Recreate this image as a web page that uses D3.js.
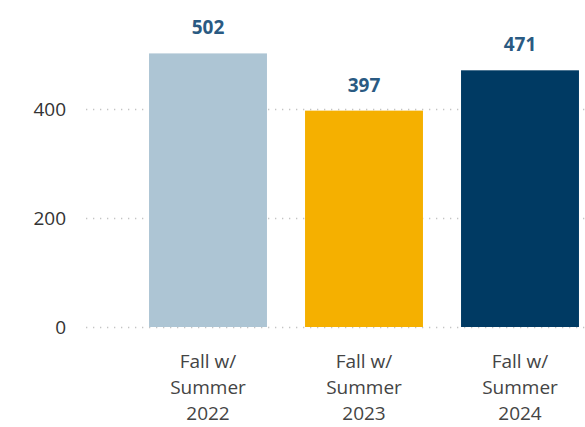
<!DOCTYPE html>
<html><head><meta charset="utf-8">
<script src="https://cdn.jsdelivr.net/npm/d3@7"></script>
<style>
html,body{margin:0;padding:0;background:#fff;}
svg{display:block;font-family:"Open Sans","Segoe UI",sans-serif;}
</style></head>
<body><svg id="chart" width="585" height="427"></svg>
<script>
const categories = [["Fall w/","Summer","2022"],["Fall w/","Summer","2023"],["Fall w/","Summer","2024"]];
const values = [502, 397, 471];
const colors = ["#adc5d4", "#f5b000", "#003a63"];
const yTicks = [0, 200, 400];

const svg = d3.select("#chart");
const keys = categories.map(c => c.join(" "));
const x = d3.scaleBand().domain(keys).range([130, 598]).paddingInner(0.244).paddingOuter(0.122);
const y = d3.scaleLinear().domain([0, 600]).range([327, 0]);

const grid = svg.append("g");
grid.selectAll("line").data(yTicks).join("line")
  .attr("x1", 86).attr("x2", 585)
  .attr("y1", d => y(d) + 0.5).attr("y2", d => y(d) + 0.5)
  .attr("stroke", "#c4c4c4").attr("stroke-width", 1.3).attr("stroke-dasharray", "1.3,5.7");

const yAxis = d3.axisLeft(y).tickValues(yTicks).tickSize(0).tickPadding(0);
const ya = svg.append("g").attr("transform", "translate(66,0)").call(yAxis);
ya.select(".domain").remove();
ya.selectAll("text").attr("font-size", 19).attr("fill", "#333").attr("font-family", "Open Sans, sans-serif").attr("dy", "0.35em");

svg.append("g").selectAll("rect").data(values).join("rect")
  .attr("x", (d, i) => x(keys[i]))
  .attr("width", x.bandwidth())
  .attr("y", d => y(d))
  .attr("height", d => y(0) - y(d))
  .attr("fill", (d, i) => colors[i]);

svg.append("g").selectAll("text").data(values).join("text")
  .attr("x", (d, i) => x(keys[i]) + x.bandwidth() / 2)
  .attr("y", d => y(d) - 19)
  .attr("text-anchor", "middle")
  .attr("font-size", 19).attr("font-weight", "bold").attr("fill", "#2a5a82")
  .text(d => d);

const xl = svg.append("g");
categories.forEach((lines, i) => {
  const t = xl.append("text")
    .attr("x", x(keys[i]) + x.bandwidth() / 2)
    .attr("text-anchor", "middle")
    .attr("font-size", 19).attr("fill", "#444");
  lines.forEach((ln, j) => {
    t.append("tspan").attr("x", x(keys[i]) + x.bandwidth() / 2).attr("y", 368 + j * 26).text(ln);
  });
});
</script></body></html>
